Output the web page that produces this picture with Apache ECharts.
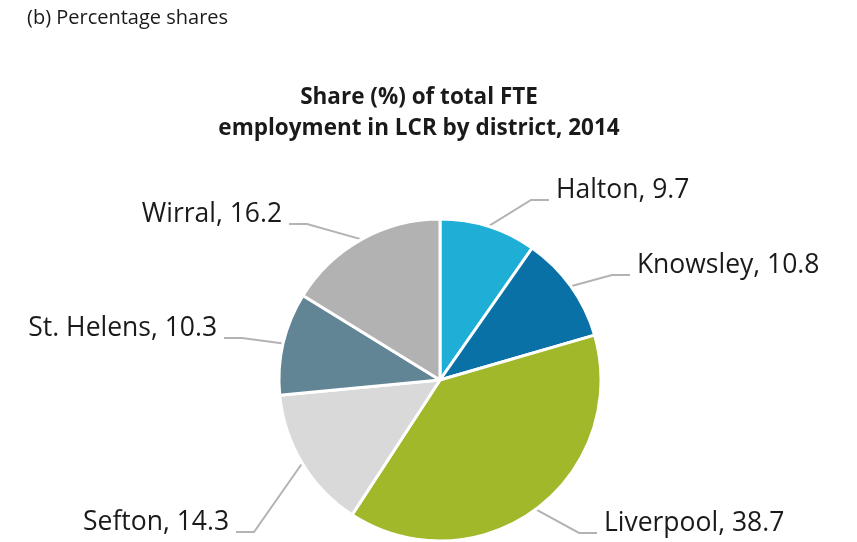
<!DOCTYPE html>
<html>
<head>
<meta charset="utf-8">
<script src="https://cdn.jsdelivr.net/npm/echarts@6/dist/echarts.min.js"></script>
<style>
    html, body { margin: 0; padding: 0; background: #fff; }
    #main { width: 857px; height: 542px; }
</style>
</head>
<body>
<div id="main"></div>
<script>
// districts and their share (%) of FTE employment
var districts = ['Halton', 'Knowsley', 'Liverpool', 'Sefton', 'St. Helens', 'Wirral'];
var shares = [9.7, 10.8, 38.7, 14.3, 10.3, 16.2];
var colors = ['#1fafd6', '#0a71a7', '#a0b82a', '#d9d9d9', '#628596', '#b2b2b2'];

// where each label sits (anchor, align); the guide line meets the label a bit below its text
var labelPos = [
    [549, 200, 'left'],
    [630, 275, 'left'],
    [597, 533, 'left'],
    [236, 532, 'right'],
    [224, 338, 'right'],
    [289, 224, 'right']
];

var chart = echarts.init(document.getElementById('main'));

var option = {
    backgroundColor: '#fff',
    animation: false,
    title: [
        {
            text: '(b) Percentage shares',
            left: 27,
            top: 8,
            padding: 0,
            textStyle: { fontFamily: 'Open Sans', fontSize: 20, fontWeight: 'normal', color: '#1a1a1a' }
        },
        {
            text: 'Share (%) of total FTE\nemployment in LCR by district, 2014',
            left: 419,
            top: 82,
            padding: 0,
            textAlign: 'center',
            textStyle: { fontFamily: 'Open Sans', fontSize: 22.5, fontWeight: 'bold', color: '#1a1a1a', lineHeight: 31 }
        }
    ],
    series: [
        {
            type: 'pie',
            center: [440, 380],
            radius: 161,
            startAngle: 90,
            clockwise: true,
            avoidLabelOverlap: false,
            itemStyle: { borderColor: '#fff', borderWidth: 3 },
            label: {
                show: true,
                position: 'outside',
                formatter: function (p) {
                    var t = p.name + ', ' + p.value;
                    t = labelPos[p.dataIndex][2] === 'left' ? '\u00a0' + t : t + '\u00a0';
                    return t + '\n\u00a0';
                },
                fontFamily: 'Open Sans',
                fontSize: 26.5,
                lineHeight: 20,
                color: '#1a1a1a'
            },
            labelLine: {
                show: true,
                length: 20,
                length2: 18,
                lineStyle: { color: '#b3b3b3', width: 2 }
            },
            labelLayout: function (params) {
                var p = labelPos[params.dataIndex];
                return { x: p[0], y: p[1], align: p[2], verticalAlign: 'middle' };
            },
            data: districts.map(function (d, i) {
                return { name: d, value: shares[i], itemStyle: { color: colors[i] } };
            })
        }
    ]
};

chart.setOption(option);
</script>
</body>
</html>
